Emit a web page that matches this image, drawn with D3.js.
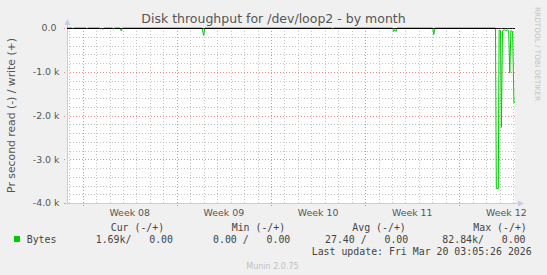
<!DOCTYPE html>
<html><head><meta charset="utf-8">
<script src="https://cdn.jsdelivr.net/npm/d3@7"></script>
<style>
html,body{margin:0;padding:0;background:#f0f0f0;}
svg{display:block;}
text{white-space:pre;}
</style></head>
<body>
<script>
// ---- data ----
const title = "Disk throughput for /dev/loop2 - by month";
const yAxisLabel = "Pr second read (-) / write (+)";
const yTickValues = [0, -1000, -2000, -3000, -4000];
const yTickLabels = ["0.0 ", "-1.0 k", "-2.0 k", "-3.0 k", "-4.0 k"];
const weekStarts = ["2026-02-16", "2026-02-23", "2026-03-02", "2026-03-09", "2026-03-16"];
const weekLabels = ["Week 08", "Week 09", "Week 10", "Week 11", "Week 12"];
// read bytes per second (plotted negative), sampled times
const readTimes = [
  "2026-02-14T20:10","2026-02-15T05:00","2026-02-15T06:30","2026-02-15T08:00",
  "2026-02-16T06:00","2026-02-16T07:30","2026-02-16T09:00",
  "2026-02-17T06:00","2026-02-17T08:00","2026-02-17T10:00","2026-02-17T12:00","2026-02-17T14:00",
  "2026-02-18T05:00","2026-02-18T07:00","2026-02-18T09:00",
  "2026-02-18T19:00","2026-02-18T21:00","2026-02-18T23:00",
  "2026-02-24T21:00","2026-02-25T00:00","2026-02-25T02:00",
  "2026-03-06T12:00","2026-03-06T14:00","2026-03-06T16:00",
  "2026-03-11T01:00","2026-03-11T03:00","2026-03-11T05:00","2026-03-11T07:00","2026-03-11T09:00",
  "2026-03-14T00:30","2026-03-14T02:30","2026-03-14T04:30",
  "2026-03-18T16:30","2026-03-18T18:00","2026-03-18T21:30","2026-03-18T23:00","2026-03-19T01:30",
  "2026-03-19T03:00","2026-03-19T05:00","2026-03-19T08:00","2026-03-19T11:00","2026-03-19T14:00",
  "2026-03-19T16:00","2026-03-19T18:00","2026-03-19T20:00","2026-03-19T23:00","2026-03-20T01:30",
  "2026-03-20T03:20"
];
const readValues = [
  0,0,20,0,
  0,20,0,
  0,20,0,30,0,
  0,25,0,
  0,70,0,
  0,170,0,
  0,20,0,
  0,80,40,80,0,
  0,150,0,
  0,3670,3670,50,60,
  2270,70,40,60,40,
  60,1030,60,80,1710,
  1690
];
const writeValues = readValues.map(() => 0);
const legendHeaders = ["Cur (-/+)", "Min (-/+)", "Avg (-/+)", "Max (-/+)"];
const legendValues = ["1.69k/   0.00", "0.00 /   0.00", "27.40 /   0.00", "82.84k/   0.00"];
const seriesName = "Bytes";
const lastUpdate = "Last update: Fri Mar 20 03:05:26 2026";
const version = "Munin 2.0.75";
const watermark = "RRDTOOL / TOBI OETIKER";

// ---- layout ----
const W = 547, H = 275;
const L = 67, R = 515, T = 28, B = 203;
const parse = s => new Date(s);
const x = d3.scaleTime().domain([parse("2026-02-14T20:10"), parse("2026-03-20T03:20")]).range([L, R]);
const y = d3.scaleLinear().domain([-4000, 0]).range([B, T]);

const svg = d3.select("body").append("svg").attr("width", W).attr("height", H);
svg.append("rect").attr("width", W).attr("height", H).attr("fill", "#f0f0f0");
svg.append("rect").attr("x", L).attr("y", T).attr("width", R - L).attr("height", B - T).attr("fill", "#fff");

const sans = "DejaVu Sans, sans-serif", mono = "DejaVu Sans Mono, monospace";
const minorCol = "#c4c4c4";

// grid: minor horizontal
const minorY = d3.range(-4000, 1, 200).filter(v => v % 1000 !== 0);
svg.append("g").selectAll("line").data(minorY).join("line")
  .attr("x1", L).attr("x2", R).attr("y1", d => Math.round(y(d)) + 0.5).attr("y2", d => Math.round(y(d)) + 0.5)
  .attr("stroke", minorCol).attr("stroke-dasharray", "1,2");
// minor vertical: days
const weekSet = new Set(weekStarts.map(s => +parse(s + "T00:00")));
const days = d3.timeDay.range(x.domain()[0], x.domain()[1]).filter(d => d > x.domain()[0] && !weekSet.has(+d));
svg.append("g").selectAll("line").data(days).join("line")
  .attr("x1", d => Math.round(x(d)) + 0.5).attr("x2", d => Math.round(x(d)) + 0.5).attr("y1", T).attr("y2", B)
  .attr("stroke", minorCol).attr("stroke-dasharray", "1,2");
// major horizontal
svg.append("g").selectAll("line").data(yTickValues).join("line")
  .attr("x1", L - 3).attr("x2", R).attr("y1", d => Math.round(y(d)) + 0.5).attr("y2", d => Math.round(y(d)) + 0.5)
  .attr("stroke", "rgba(230,110,110,0.8)").attr("stroke-dasharray", "1,2");
// major vertical: week starts
svg.append("g").selectAll("line").data(weekStarts).join("line")
  .attr("x1", d => Math.round(x(parse(d + "T00:00"))) + 0.5).attr("x2", d => Math.round(x(parse(d + "T00:00"))) + 0.5)
  .attr("y1", T).attr("y2", B + 3)
  .attr("stroke", "rgba(230,110,110,0.8)").attr("stroke-dasharray", "1,2");

// axes (rrdtool style)
const axisCol = "#c8cce8";
svg.append("line").attr("x1", L + 0.5).attr("x2", L + 0.5).attr("y1", B + 2).attr("y2", T - 4).attr("stroke", axisCol);
svg.append("path").attr("d", `M${L - 2.5},${T - 3} L${L + 3.5},${T - 3} L${L + 0.5},${T - 9} Z`).attr("fill", axisCol);
svg.append("line").attr("x1", L - 2).attr("x2", R + 4).attr("y1", B + 0.5).attr("y2", B + 0.5).attr("stroke", axisCol);
svg.append("path").attr("d", `M${R + 3},${B - 2.5} L${R + 3},${B + 3.5} L${R + 9},${B + 0.5} Z`).attr("fill", axisCol);

// data
const pts = readTimes.map((t, i) => ({ t: parse(t), v: -readValues[i] }));
svg.append("path").datum(pts)
  .attr("d", d3.line().x(d => x(d.t)).y(d => y(d.v)))
  .attr("fill", "none").attr("stroke", "#00cc00").attr("stroke-width", 1);
// write series (zero) drawn as black line
const wpts = readTimes.map((t, i) => ({ t: parse(t), v: writeValues[i] }));
svg.append("path").datum(wpts)
  .attr("d", d3.line().x(d => x(d.t)).y(d => Math.round(y(d.v)) + 0.5))
  .attr("fill", "none").attr("stroke", "#000").attr("stroke-width", 1);

// y tick labels
svg.append("g").selectAll("text").data(yTickValues).join("text")
  .attr("x", 59.5).attr("y", d => y(d)).attr("dy", "0.35em")
  .attr("text-anchor", "end").attr("font-family", sans).attr("font-size", 9.4).attr("fill", "#555")
  .text((d, i) => yTickLabels[i]);
// x labels at mid-week
svg.append("g").selectAll("text").data(weekStarts).join("text")
  .attr("x", d => x(d3.timeHour.offset(parse(d + "T00:00"), 84)))
  .attr("y", 216).attr("text-anchor", "middle").attr("font-family", sans).attr("font-size", 9.4).attr("fill", "#555")
  .text((d, i) => weekLabels[i]);

// title
svg.append("text").attr("x", W / 2).attr("y", 23).attr("text-anchor", "middle")
  .attr("font-family", sans).attr("font-size", 12.5).attr("fill", "#555").text(title);
// y axis label
svg.append("text").attr("transform", `translate(15,${(T + B) / 2}) rotate(-90)`).attr("text-anchor", "middle")
  .attr("font-family", sans).attr("font-size", 10.8).attr("fill", "#555").text(yAxisLabel);
// watermark
svg.append("text").attr("transform", `translate(535,7) rotate(90)`).attr("text-anchor", "start")
  .attr("font-family", sans).attr("font-size", 7.3).attr("fill", "#c4c4c4").text(watermark);

// legend
const lg = svg.append("g").attr("font-family", mono).attr("font-size", 9.9).attr("fill", "#444");
const headerX = [110.7, 231.7, 352.3, 473.3];
const valueX = [95.7, 213, 325, 442.3];
lg.selectAll("text.h").data(legendHeaders).join("text").attr("class", "h")
  .attr("x", (d, i) => headerX[i]).attr("y", 231).text(d => d);
lg.selectAll("text.v").data(legendValues).join("text").attr("class", "v")
  .attr("x", (d, i) => valueX[i]).attr("y", 243).text(d => d);
svg.append("rect").attr("x", 14).attr("y", 236).attr("width", 6).attr("height", 6).attr("fill", "#00cc00");
lg.append("text").attr("x", 26.7).attr("y", 243).text(seriesName);
lg.append("text").attr("x", 311.7).attr("y", 255).text(lastUpdate);
svg.append("text").attr("x", 272.5).attr("y", 269).attr("text-anchor", "middle")
  .attr("font-family", sans).attr("font-size", 8).attr("fill", "#c0c0c0").text(version);
</script>
</body></html>
